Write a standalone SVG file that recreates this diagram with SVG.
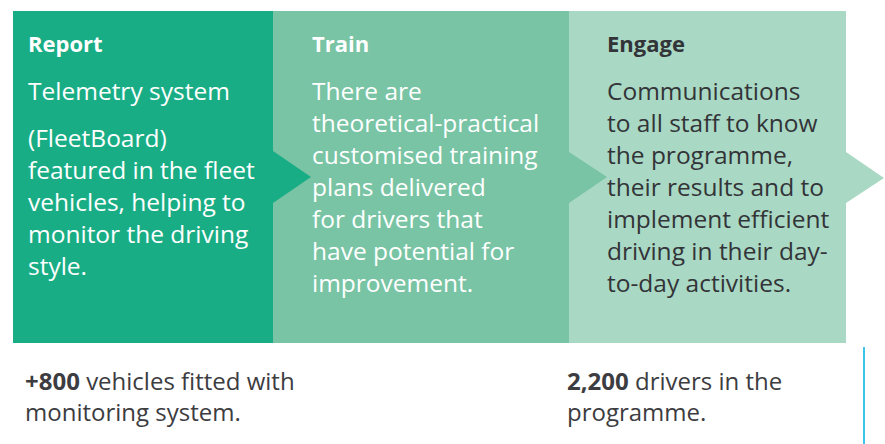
<svg xmlns="http://www.w3.org/2000/svg" width="885" height="444" viewBox="0 0 885 444">
  <style>
    .title { font-family: "Open Sans", "Liberation Sans", sans-serif; font-size: 22px; font-weight: 700; }
    .body { font-family: "Open Sans", "Liberation Sans", sans-serif; font-size: 24.5px; }
    .light { fill: #ffffff; }
    .dark { fill: #333438; }
    .foot { font-family: "Open Sans", "Liberation Sans", sans-serif; font-size: 24px; fill: #3c3c41; }
    .foot .num { font-weight: 700; }
  </style>
  <rect width="885" height="444" fill="#ffffff"/>
  <g id="report">
    <rect x="13" y="11" width="260" height="332" fill="#19ad85"/>
    <text class="title light" x="28" y="52">Report</text>
    <text class="body light" x="28">
      <tspan x="28" y="100">Telemetry system</tspan>
      <tspan x="28" y="147">(FleetBoard)</tspan>
      <tspan x="28" y="179">featured in the fleet</tspan>
      <tspan x="28" y="211">vehicles, helping to</tspan>
      <tspan x="28" y="243">monitor the driving</tspan>
      <tspan x="28" y="275">style.</tspan>
    </text>
  </g>
  <g id="train">
    <rect x="273" y="11" width="296" height="332" fill="#78c4a4"/>
    <text class="title light" x="312" y="52">Train</text>
    <text class="body light">
      <tspan x="312" y="100">There are</tspan>
      <tspan x="312" y="132">theoretical-practical</tspan>
      <tspan x="312" y="164">customised training</tspan>
      <tspan x="312" y="196">plans delivered</tspan>
      <tspan x="312" y="228">for drivers that</tspan>
      <tspan x="312" y="260">have potential for</tspan>
      <tspan x="312" y="292">improvement.</tspan>
    </text>
  </g>
  <g id="engage">
    <rect x="569" y="11" width="277" height="332" fill="#a9d9c4"/>
    <text class="title dark" x="607" y="52">Engage</text>
    <text class="body dark">
      <tspan x="607" y="100">Communications</tspan>
      <tspan x="607" y="132">to all staff to know</tspan>
      <tspan x="607" y="164">the programme,</tspan>
      <tspan x="607" y="196">their results and to</tspan>
      <tspan x="607" y="228">implement efficient</tspan>
      <tspan x="607" y="260">driving in their day-</tspan>
      <tspan x="607" y="292">to-day activities.</tspan>
    </text>
  </g>
  <g id="connectors">
    <polygon points="273,151 311,177 273,203" fill="#19ad85"/>
    <polygon points="569,152 607,177 569,203" fill="#78c4a4"/>
    <polygon points="846,152 884,178 846,203" fill="#a9d9c4"/>
  </g>
  <g id="stat-vehicles">
    <text class="foot" x="25" y="390"><tspan class="num">+800</tspan> vehicles fitted with</text>
    <text class="foot" x="25" y="421">monitoring system.</text>
  </g>
  <g id="stat-drivers">
    <text class="foot" x="567" y="390"><tspan class="num">2,200</tspan> drivers in the</text>
    <text class="foot" x="567" y="421">programme.</text>
  </g>
  <line x1="864" y1="347" x2="864" y2="444" stroke="#3ec6ea" stroke-width="2"/>
</svg>
